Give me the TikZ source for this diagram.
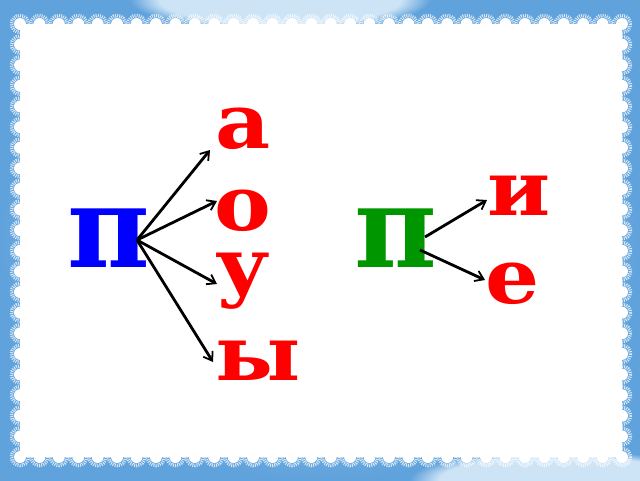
\documentclass[tikz,border=0pt]{standalone}
\usepackage{fontspec}
\newfontfamily\dv{DejaVu Serif}
\usetikzlibrary{arrows.meta,fadings}
\definecolor{bgblue}{RGB}{96,162,220}
\definecolor{bglight}{RGB}{205,228,246}
\definecolor{lred}{RGB}{255,0,0}
\definecolor{lgreen}{RGB}{0,150,0}
\definecolor{lblue}{RGB}{0,0,255}
\tikzset{
  letter/.style={inner sep=0pt, anchor=base, xscale=1.12, font=\dv\bfseries\fontsize{76}{76}\selectfont, text=lred},
  bigletter/.style={inner sep=0pt, anchor=base, font=\dv\bfseries\fontsize{113}{113}\selectfont},
  arr/.style={line width=2.8pt, -{Straight Barb[length=8pt,width=11pt,line width=1.8pt]}},
  lace/.style={fill=white},
  rays/.style={draw=white, line width=3.5pt, dash pattern=on 1pt off 1.1pt, opacity=0.75}
}
\begin{document}
\begin{tikzpicture}[x=1pt,y=-1pt]
\useasboundingbox (0,0) rectangle (640,480);
\shade[outer color=bgblue, inner color=bglight] (0,0) rectangle (640,480);
\fill[bglight, path fading=circle with fuzzy edge 20 percent] (280,0) ellipse (150 and 30);
\fill[bglight, path fading=circle with fuzzy edge 20 percent] (560,480) ellipse (150 and 30);
\fill[white] (20,24) rectangle (622,457);
% lace border
\foreach \i in {0,...,31} {
  \pgfmathsetmacro{\xx}{20+\i*19.419}
  \draw[rays] (\xx,24) circle (8.5);
  \draw[rays] (\xx,457) circle (8.5);
}
\foreach \i in {1,...,20} {
  \pgfmathsetmacro{\yy}{24+\i*20.619}
  \draw[rays] (20,\yy) circle (8.5);
  \draw[rays] (622,\yy) circle (8.5);
}
\foreach \i in {0,...,31} {
  \pgfmathsetmacro{\xx}{20+\i*19.419}
  \fill[lace] (\xx,24) circle (6);
  \fill[lace] (\xx,457) circle (6);
}
\foreach \i in {1,...,20} {
  \pgfmathsetmacro{\yy}{24+\i*20.619}
  \fill[lace] (20,\yy) circle (6);
  \fill[lace] (622,\yy) circle (6);
}
% letters
\node[bigletter, text=lblue] (p1) at (109,267) {п};
\node[bigletter, text=lgreen] (p2) at (396,267) {п};
\node[letter] (a) at (243,148) {а};
\node[letter] (o) at (243,230) {о};
\node[letter] (u) at (243,292) {у};
\node[letter] (y) at (258,380) {ы};
\node[letter] (i) at (519,215) {и};
\node[letter] (e) at (513,303) {е};
% arrow anchors
\coordinate (s1) at (137,240);
\coordinate (ta) at (210,150);
\coordinate (to) at (217,201);
\coordinate (tu) at (217,284);
\coordinate (ty) at (213,362);
\coordinate (s2) at (425,237);
\coordinate (s3) at (420,250);
\coordinate (ti) at (487,200);
\coordinate (te) at (485,280);
\draw[arr] (s1) -- (ta);
\draw[arr] (s1) -- (to);
\draw[arr] (s1) -- (tu);
\draw[arr] (s1) -- (ty);
\draw[arr] (s2) -- (ti);
\draw[arr] (s3) -- (te);
\end{tikzpicture}
\end{document}
